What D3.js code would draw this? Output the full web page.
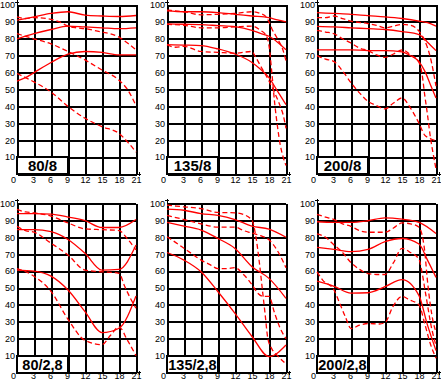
<!DOCTYPE html>
<html><head><meta charset="utf-8">
<script src="https://cdn.jsdelivr.net/npm/d3@7"></script>
<style>html,body{margin:0;padding:0;background:#fff;overflow:hidden}svg{display:block}</style>
</head><body>
<script>
// ---- tick labels ----
const xTicks = [0, 3, 6, 9, 12, 15, 18, 21];
const yTicks = [10, 20, 30, 40, 50, 60, 70, 80, 90, 100];
const panelTitles = ["80/8", "135/8", "200/8", "80/2,8", "135/2,8", "200/2,8"];

// ---- 80/8 ----
const p1_s1 = [[0,91],[3,93],[6,95],[9,96],[12,94],[15,93.5],[18,93.2],[21,93.8]];
const p1_d1 = [[0,93],[1.5,92],[3,92.5],[6,91.5],[7.5,90],[9,87.5],[10.5,86.5],[12,86],[15,84],[16.5,83],[18,81],[19.5,77.5],[21,73.5]];
const p1_s2 = [[0,80],[3,83],[6,85.5],[9,87.5],[12,87],[15,86.5],[18,86],[21,86.5]];
const p1_d2 = [[0,83],[1.5,81.5],[3,80],[6,77],[9,72.5],[12,67.5],[15,61.5],[18,55.5],[19.5,50],[21,40.5]];
const p1_s3 = [[0,55],[1.5,57],[3,60],[6,66],[9,71],[12,72.5],[15,72],[18,70.5],[21,70.5]];
const p1_d3 = [[0,59.5],[3,54.5],[6,48.5],[9,40],[12,33],[15,28],[18,24],[19.5,19],[21,13]];

// ---- 135/8 ----
const p2_s1 = [[0,96.5],[3,96],[6,96],[9,95.5],[12,94.5],[15,93.5],[18,92.5],[19.5,91.2],[21,90]];
const p2_d1 = [[0,97],[1.5,96.5],[3,96],[6,94.2],[9,94.5],[12,95],[15,96],[16.5,95],[17.5,93],[18,90],[18.5,86],[19.5,80],[20.5,73],[21,67]];
const p2_s2 = [[0,88.8],[3,88.6],[6,88.4],[9,87.8],[12,87.2],[15,85],[16.5,83.2],[18,81.5],[19.5,78],[21,73.5]];
const p2_d2 = [[0,88.5],[3,88],[6,86.5],[9,86.5],[12,87],[15,87.5],[16.5,85],[17.5,82],[18,76],[18.5,60],[19,42],[19.5,28],[20,17],[20.5,10],[21,5]];
const p2_s3 = [[0,76.5],[3,76.3],[6,76],[9,74],[12,71],[15,66],[16.5,62],[18,57],[19.5,49],[21,41]];
const p2_d3 = [[0,76.5],[1.5,75],[3,75.5],[6,72.5],[9,72],[12,71.5],[15,72.5],[15.5,70],[16.5,64],[18,55],[19,48],[20,40],[20.5,35],[21,27]];

// ---- 200/8 ----
const p3_s1 = [[0,95.5],[3,95],[6,94.5],[9,93.7],[12,93],[15,92],[18,90.5],[19.5,89.5],[21,87.5]];
const p3_d1 = [[0,92.5],[1.5,92.5],[3,93.5],[4.5,92],[6,90.5],[9,89],[10.5,88],[12,86.5],[13.5,87.5],[15,88.5],[16.5,88],[18,84.5],[19,79],[20,69],[21,52]];
const p3_s2 = [[0,87.3],[3,87],[6,86.5],[9,86],[12,85.5],[15,84.3],[18,82.5],[19.5,78],[21,73]];
const p3_d2 = [[0,85],[1.5,84],[3,83],[4.5,80],[6,77.5],[7.5,74.5],[9,73],[10.5,70.5],[12,69],[13.5,71],[15,73.5],[16.5,70.5],[18,66],[18.5,60],[19,47],[19.5,35],[20,22],[20.5,12],[21,3]];
const p3_s3 = [[0,73.5],[3,73.5],[6,73.5],[9,73],[12,73],[15,72.3],[16.5,70],[18,66.5],[19,61],[20,53],[21,45]];
const p3_d3 = [[0,70],[1.5,68],[3,66.5],[4.5,61],[6,54],[7.5,48],[9,43],[10.5,40.5],[12,38.5],[13.5,42],[15,45],[16.5,39],[18,30],[19,23],[20,21],[21,19.5]];

// ---- 80/2,8 ----
const p4_s1 = [[0,94],[3,94],[6,93.7],[9,92],[12,89.8],[15,85.8],[18,85.8],[21,90.5]];
const p4_d1 = [[0,96.5],[1.5,95],[3,94.5],[6,92.5],[9,88.5],[12,85],[15,84.5],[18,84],[19.5,79],[21,72.5]];
const p4_s2 = [[0,84.6],[3,84.6],[6,83.3],[9,78.7],[12,70.5],[15,60.6],[18,61],[21,75.4]];
const p4_d2 = [[0,86.5],[1.5,84],[3,83],[6,76.5],[9,69.5],[12,60.6],[15,59.6],[18,58.7],[19,51],[20,44],[21,38]];
const p4_s3 = [[0,60.6],[3,60],[6,57],[9,48.8],[12,36],[15,23.6],[18,26.2],[21,45.3]];
const p4_d3 = [[0,61.5],[3,57],[6,48],[9,31.5],[12,19],[15,16.5],[16.5,22],[18,27],[19.5,19],[21,10]];

// ---- 135/2,8 ----
const p5_s1 = [[0,96.7],[3,96],[6,94],[9,93],[12,90.5],[15,86.6],[18,84.8],[21,80]];
const p5_d1 = [[0,99],[3,98],[6,97],[9,94.7],[12,94.5],[13.5,93.5],[15,90],[15.7,80],[16.3,65],[16.8,50],[17.3,35],[17.8,20],[18.5,14],[19.5,10],[21,5]];
const p5_s2 = [[0,88.8],[3,86.6],[6,84.3],[9,79.3],[12,73.4],[15,62.6],[18,55.7],[21,43.9]];
const p5_d2 = [[0,93],[3,90.5],[6,88],[9,86],[12,86],[13.5,84],[15,82.5],[16.5,81],[18,78.5],[19.5,72],[21,62]];
const p5_s3 = [[0,71],[3,66.5],[6,59.6],[9,47.8],[12,35],[15,21.3],[18,9.4],[21,16.3]];
const p5_d3 = [[0,80.3],[1.5,77],[3,73.5],[4.5,70],[6,66.5],[7.5,64],[9,61.5],[10.5,61.5],[12,62],[13.5,58],[15,52],[16,47],[17,45],[18,45],[19,35],[20,26],[21,20]];

// ---- 200/2,8 ----
const p6_s1 = [[0,89.2],[3,88.8],[6,88.8],[9,89.8],[12,91.5],[15,90.7],[18,88.8],[21,82.3]];
const p6_d1 = [[0,93.5],[1.5,92],[3,90.5],[4.5,88],[6,86.5],[7.5,84],[9,83],[10.5,83],[12,83],[13.5,85.5],[15,88.5],[16.5,88],[18,86],[18.5,82],[19,72],[19.5,54],[20,40],[20.5,30],[21,24]];
const p6_s2 = [[0,74],[3,72.8],[6,71.5],[9,72.8],[12,77.4],[15,79.3],[18,76],[19.5,66.5],[21,56.3]];
const p6_d2 = [[0,82],[1.5,80],[3,75.5],[4.5,71],[6,65],[7.5,61],[9,58.5],[10.5,58],[12,58],[13.5,65],[15,73.5],[16.5,71],[18,67],[18.5,60],[19,50],[19.5,40],[20,30],[21,16]];
const p6_s3 = [[0,54],[3,51],[6,47],[9,47.2],[12,50.8],[15,55],[18,45.5],[19.5,28],[21,13]];
const p6_d3 = [[0,59.5],[1,54.7],[3,48.8],[4,41],[5,33],[6,26],[7.5,28],[9,29],[11,28.7],[12,29.5],[13.4,39],[15,45],[16.3,43],[18,40],[19,29],[20,17],[21,8.5]];

const panels = [
  {solid:[p1_s1,p1_s2,p1_s3], dashed:[p1_d1,p1_d2,p1_d3]},
  {solid:[p2_s1,p2_s2,p2_s3], dashed:[p2_d1,p2_d2,p2_d3]},
  {solid:[p3_s1,p3_s2,p3_s3], dashed:[p3_d1,p3_d2,p3_d3]},
  {solid:[p4_s1,p4_s2,p4_s3], dashed:[p4_d1,p4_d2,p4_d3]},
  {solid:[p5_s1,p5_s2,p5_s3], dashed:[p5_d1,p5_d2,p5_d3]},
  {solid:[p6_s1,p6_s2,p6_s3], dashed:[p6_d1,p6_d2,p6_d3]}
];

const W = 441, H = 382;
const svg = d3.select("body").append("svg").attr("width", W).attr("height", H)
  .style("font-family", "'Liberation Sans', Arial, sans-serif");

const colLeft = [17, 167, 317];
const plotW = 119;
const rows = [{y0: 174, y100: 5, pad: 2.5}, {y0: 372.5, y100: 203.5, pad: 0.5}];

panels.forEach((p, i) => {
  const c = i % 3, r = Math.floor(i / 3);
  const x = d3.scaleLinear().domain([0, 21]).range([colLeft[c], colLeft[c] + plotW]);
  const y = d3.scaleLinear().domain([0, 100]).range([rows[r].y0, rows[r].y100]);
  const plotH = rows[r].y0 - rows[r].y100;
  const g = svg.append("g");

  // y axis with grid
  const ya = g.append("g").attr("transform", `translate(${x(0)},0)`)
    .call(d3.axisLeft(y).tickValues(yTicks).tickSize(-plotW).tickSizeOuter(0).tickPadding(2));
  // x axis with grid
  const xa = g.append("g").attr("transform", `translate(0,${y(0)})`)
    .call(d3.axisBottom(x).tickValues(xTicks).tickSize(-plotH).tickSizeOuter(0).tickPadding(rows[r].pad)
      .tickFormat(d => d));
  [ya, xa].forEach(a => {
    a.selectAll("line").attr("stroke", "#000").attr("stroke-width", 2).attr("shape-rendering", "crispEdges");
    a.select(".domain").attr("stroke", "#000").attr("stroke-width", 2).attr("shape-rendering", "crispEdges");
    a.selectAll("text").attr("fill", "#000").style("font-size", "9px");
  });
  xa.selectAll(".tick text").attr("dx", d => d === 0 ? -4 : (d < 10 ? -1 : 0));

  // axis extensions (small arrow ticks)
  g.append("line").attr("x1", x(0)).attr("x2", x(0)).attr("y1", y(100)).attr("y2", y(100) - 5)
    .attr("stroke", "#000").attr("stroke-width", 1).attr("shape-rendering", "crispEdges");
  g.append("line").attr("x1", x(0) - 2).attr("x2", x(0) + 2).attr("y1", y(100) - 3).attr("y2", y(100) - 3)
    .attr("stroke", "#000").attr("stroke-width", 1).attr("shape-rendering", "crispEdges");
  g.append("line").attr("x1", x(21)).attr("x2", x(21) + 5).attr("y1", y(0)).attr("y2", y(0))
    .attr("stroke", "#000").attr("stroke-width", 1).attr("shape-rendering", "crispEdges");
  g.append("line").attr("x1", x(21) + 3).attr("x2", x(21) + 3).attr("y1", y(0) - 2).attr("y2", y(0) + 2)
    .attr("stroke", "#000").attr("stroke-width", 1).attr("shape-rendering", "crispEdges");

  const line = d3.line().x(d => x(d[0])).y(d => y(d[1])).curve(d3.curveMonotoneX);
  g.selectAll(".solid").data(p.solid).join("path")
    .attr("d", line).attr("fill", "none").attr("stroke", "#ff0000").attr("stroke-width", 1.3);
  g.selectAll(".dashed").data(p.dashed).join("path")
    .attr("d", line).attr("fill", "none").attr("stroke", "#ff0000").attr("stroke-width", 1.3)
    .attr("stroke-dasharray", "5,3");

  // title box
  g.append("rect").attr("x", x(0)).attr("y", y(10)).attr("width", x(9) - x(0)).attr("height", y(0) - y(10))
    .attr("fill", "#fff").attr("stroke", "#000").attr("stroke-width", 2).attr("shape-rendering", "crispEdges");
  g.append("text").attr("x", (x(0) + x(9)) / 2).attr("y", (y(0) + y(10)) / 2 + 5.5)
    .attr("text-anchor", "middle").style("font-size", r === 0 ? "15px" : "14.5px").style("font-weight", "bold")
    .text(panelTitles[i]);
});
</script>
</body></html>
